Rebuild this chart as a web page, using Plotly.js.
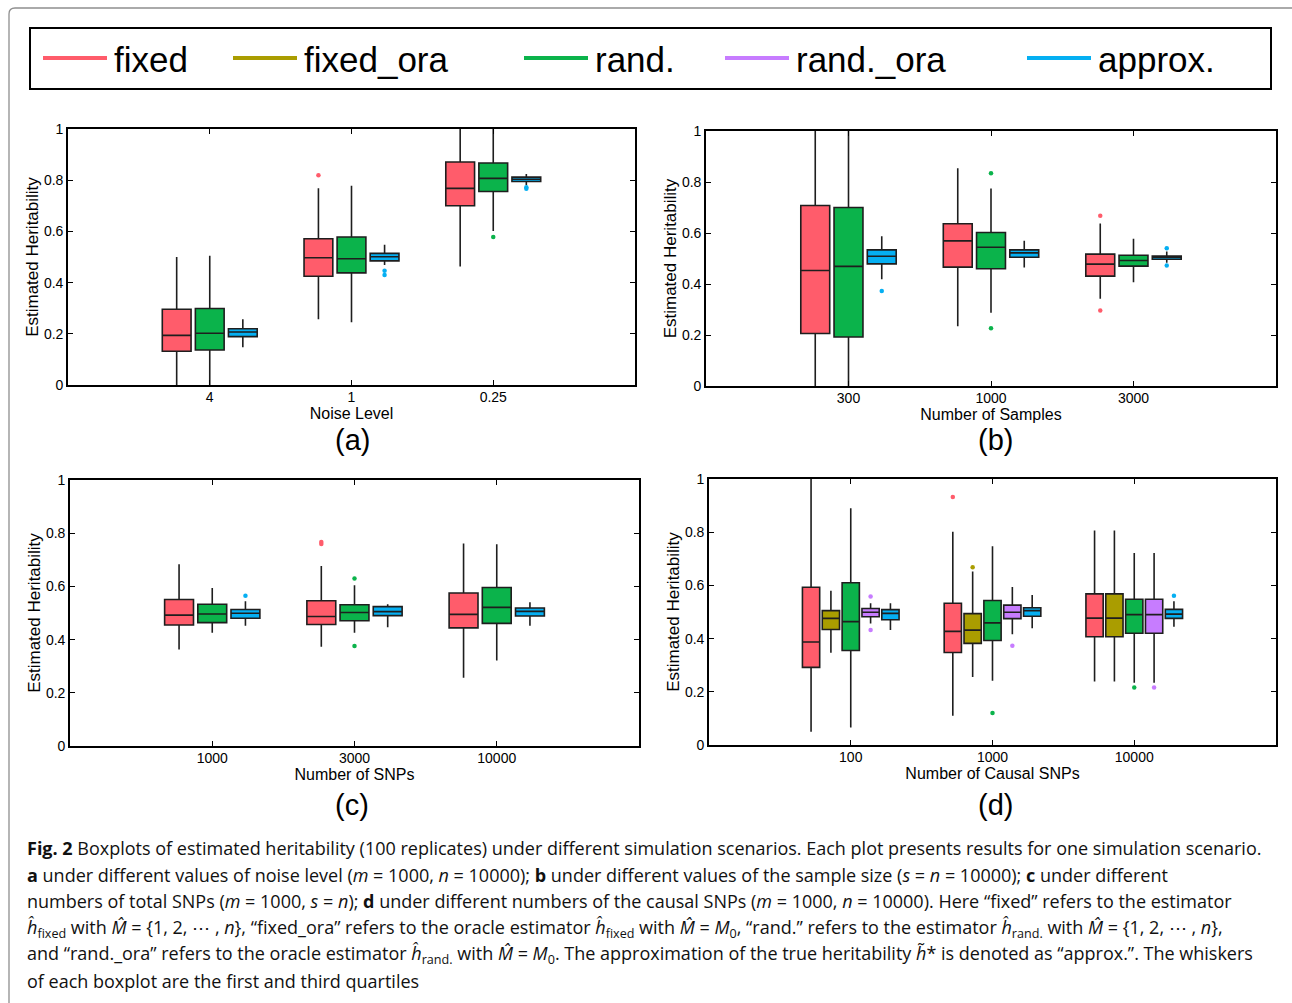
<!DOCTYPE html>
<html><head><meta charset="utf-8">
<script src="https://cdn.plot.ly/plotly-3.0.1.min.js"></script>
<style>html,body{margin:0;padding:0;background:#fff}</style>
</head><body><div id="chart" style="width:1292px;height:1003px"></div>
<script>
// ---------------- data ----------------
const seriesNames = ['fixed', 'fixed_ora', 'rand.', 'rand._ora', 'approx.'];
const yTickVals = [0, 0.2, 0.4, 0.6, 0.8, 1];
const yTickText = ['0', '0.2', '0.4', '0.6', '0.8', '1'];
const yTitle = 'Estimated Heritability';

// each row (one per category): [lower whisker, Q1, median, Q3, upper whisker]
// (a) noise level
const catsA = ['4', '1', '0.25'];
const A_fixed  = [[0.000,0.132,0.194,0.296,0.500],[0.257,0.425,0.497,0.571,0.769],[0.463,0.700,0.768,0.871,1.000]];
const A_rand   = [[0.000,0.137,0.202,0.299,0.505],[0.245,0.438,0.493,0.578,0.778],[0.602,0.756,0.807,0.867,1.000]];
const A_approx = [[0.147,0.189,0.207,0.220,0.257],[0.469,0.485,0.501,0.514,0.548],[0.781,0.795,0.804,0.812,0.824]];
const A_fixed_out  = [[], [0.819], []];
const A_rand_out   = [[], [], [0.578]];
const A_approx_out = [[], [0.446, 0.430], [0.772, 0.767]];

// (b) number of samples
const catsB = ['300', '1000', '3000'];
const B_fixed  = [[0.000,0.206,0.453,0.708,1.000],[0.234,0.466,0.569,0.636,0.854],[0.342,0.431,0.478,0.517,0.637]];
const B_rand   = [[0.000,0.192,0.469,0.700,1.000],[0.287,0.460,0.544,0.602,0.775],[0.407,0.470,0.492,0.513,0.577]];
const B_approx = [[0.419,0.479,0.509,0.534,0.587],[0.465,0.505,0.522,0.534,0.570],[0.483,0.497,0.505,0.510,0.527]];
const B_fixed_out  = [[], [], [0.668, 0.296]];
const B_rand_out   = [[], [0.834, 0.226], []];
const B_approx_out = [[0.373], [], [0.540, 0.473]];

// (c) number of SNPs
const catsC = ['1000', '3000', '10000'];
const C_fixed  = [[0.363,0.455,0.492,0.551,0.683],[0.373,0.457,0.487,0.546,0.677],[0.257,0.444,0.495,0.575,0.761]];
const C_rand   = [[0.426,0.464,0.496,0.533,0.594],[0.426,0.471,0.502,0.531,0.604],[0.321,0.461,0.521,0.596,0.758]];
const C_approx = [[0.452,0.480,0.499,0.513,0.544],[0.446,0.490,0.505,0.524,0.533],[0.452,0.489,0.506,0.519,0.540]];
const C_fixed_out  = [[], [0.767, 0.759], []];
const C_rand_out   = [[], [0.630, 0.376], []];
const C_approx_out = [[0.565], [], []];

// (d) number of causal SNPs
const catsD = ['100', '1000', '10000'];
const D_fixed    = [[0.050,0.292,0.387,0.593,1.000],[0.110,0.348,0.427,0.533,0.802],[0.239,0.407,0.477,0.568,0.806]];
const D_fixedora = [[0.347,0.434,0.476,0.505,0.580],[0.256,0.382,0.432,0.494,0.652],[0.239,0.407,0.477,0.568,0.806]];
const D_rand     = [[0.066,0.355,0.464,0.610,0.890],[0.242,0.393,0.459,0.543,0.747],[0.234,0.420,0.490,0.548,0.722]];
const D_randora  = [[0.457,0.482,0.499,0.513,0.533],[0.416,0.475,0.499,0.526,0.594],[0.234,0.420,0.490,0.548,0.722]];
const D_approx   = [[0.432,0.471,0.495,0.509,0.533],[0.439,0.484,0.505,0.516,0.564],[0.445,0.476,0.492,0.510,0.540]];
const D_fixed_out    = [[], [0.932], []];
const D_fixedora_out = [[], [0.668], []];
const D_rand_out     = [[], [0.120], [0.216]];
const D_randora_out  = [[0.558, 0.432], [0.373], [0.216]];
const D_approx_out   = [[], [], [0.561]];

const captionLines = [
  '<b>Fig. 2</b> Boxplots of estimated heritability (100 replicates) under different simulation scenarios. Each plot presents results for one simulation scenario.',
  '<b>a</b> under different values of noise level (<i>m</i> = 1000, <i>n</i> = 10000); <b>b</b> under different values of the sample size (<i>s</i> = <i>n</i> = 10000); <b>c</b> under different',
  'numbers of total SNPs (<i>m</i> = 1000, <i>s</i> = <i>n</i>); <b>d</b> under different numbers of the causal SNPs (<i>m</i> = 1000, <i>n</i> = 10000). Here \u201cfixed\u201d refers to the estimator',
  '<i>\u0125</i><sub>fixed</sub> with <i>M\u0302</i> = {1, 2, \u22EF , <i>n</i>}, \u201cfixed_ora\u201d refers to the oracle estimator <i>\u0125</i><sub>fixed</sub> with <i>M\u0302</i> = <i>M</i><sub>0</sub>, \u201crand.\u201d refers to the estimator <i>\u0125</i><sub>rand.</sub> with <i>M\u0302</i> = {1, 2, \u22EF , <i>n</i>},',
  'and \u201crand._ora\u201d refers to the oracle estimator <i>\u0125</i><sub>rand.</sub> with <i>M\u0302</i> = <i>M</i><sub>0</sub>. The approximation of the true heritability <i>h\u0303</i>* is denoted as \u201capprox.\u201d. The whiskers',
  'of each boxplot are the first and third quartiles'
];

// ---------------- styles / layout ----------------
const W = 1292, H = 1003;
const seriesColors = ['#FF5C6B', '#AA9D00', '#0BB34B', '#C77CFF', '#05AFF2'];
const FONT = 'Liberation Sans, Arial, Helvetica, sans-serif';
const px = v => v / W;
const py = v => 1 - v / H;

const panels = [
  {cats: catsA, title: 'Noise Level', label: '(a)', xd: [68, 635], yd: [129, 385], lab: [352, 440],
   series: [[0, A_fixed, A_fixed_out], [2, A_rand, A_rand_out], [4, A_approx, A_approx_out]]},
  {cats: catsB, title: 'Number of Samples', label: '(b)', xd: [706, 1276], yd: [131, 386], lab: [995, 440],
   series: [[0, B_fixed, B_fixed_out], [2, B_rand, B_rand_out], [4, B_approx, B_approx_out]]},
  {cats: catsC, title: 'Number of SNPs', label: '(c)', xd: [70, 639], yd: [480, 746], lab: [352, 805],
   series: [[0, C_fixed, C_fixed_out], [2, C_rand, C_rand_out], [4, C_approx, C_approx_out]]},
  {cats: catsD, title: 'Number of Causal SNPs', label: '(d)', xd: [709, 1276], yd: [479, 745], lab: [995, 805],
   series: [[0, D_fixed, D_fixed_out], [1, D_fixedora, D_fixedora_out], [2, D_rand, D_rand_out],
            [3, D_randora, D_randora_out], [4, D_approx, D_approx_out]]}
];

const traces = [];
const layout = {
  width: W, height: H, margin: {l: 0, r: 0, t: 0, b: 0},
  paper_bgcolor: '#fff', plot_bgcolor: '#fff', showlegend: false, boxmode: 'overlay',
  font: {family: FONT, color: '#000', size: 14},
  shapes: [], annotations: []
};

panels.forEach((p, pi) => {
  const sfx = pi === 0 ? '' : String(pi + 1);
  const xa = 'x' + sfx, ya = 'y' + sfx;
  const n = p.series.length;
  const slot = 0.7 / n, bw = slot * 0.87;
  p.series.forEach((s, k) => {
    const [si, stats, outs] = s;
    const off = (k - (n - 1) / 2) * slot;
    const xs = p.cats.map((c, i) => i + 1 + off);
    traces.push({
      type: 'box', orientation: 'v', xaxis: xa, yaxis: ya, name: seriesNames[si],
      x: xs,
      lowerfence: stats.map(r => r[0]), q1: stats.map(r => r[1]), median: stats.map(r => r[2]),
      q3: stats.map(r => r[3]), upperfence: stats.map(r => r[4]),
      width: bw, whiskerwidth: 0, boxpoints: false,
      fillcolor: seriesColors[si], line: {color: '#1e1e1e', width: 1.6},
      hoverinfo: 'y', showlegend: false
    });
    const ox = [], oy = [];
    outs.forEach((vals, i) => vals.forEach(v => { ox.push(i + 1 + off); oy.push(v); }));
    if (ox.length) traces.push({
      type: 'scatter', mode: 'markers', xaxis: xa, yaxis: ya, name: seriesNames[si] + ' outliers',
      x: ox, y: oy, marker: {color: seriesColors[si], size: 4.5}, showlegend: false, hoverinfo: 'y'
    });
  });
  const axCommon = {
    ticks: 'inside', ticklen: 5, tickwidth: 1, tickcolor: '#000',
    showline: true, linecolor: '#000', linewidth: 1.8, mirror: 'ticks',
    showgrid: false, zeroline: false, fixedrange: true,
    tickfont: {family: FONT, size: 14, color: '#000'}
  };
  layout['xaxis' + sfx] = Object.assign({}, axCommon, {
    domain: [px(p.xd[0]), px(p.xd[1])], anchor: ya, range: [0, 4],
    tickmode: 'array', tickvals: p.cats.map((c, i) => i + 1), ticktext: p.cats,
    ticklabelstandoff: -2,
    title: {text: p.title, font: {family: FONT, size: 16, color: '#000'}, standoff: 3}
  });
  layout['yaxis' + sfx] = Object.assign({}, axCommon, {
    domain: [py(p.yd[1]), py(p.yd[0])], anchor: xa, range: [0, 1],
    tickmode: 'array', tickvals: yTickVals, ticktext: yTickText,
    title: {text: yTitle, font: {family: FONT, size: 17, color: '#000'}, standoff: 1}
  });
  layout.annotations.push({
    xref: 'paper', yref: 'paper', x: px(p.lab[0]), y: py(p.lab[1]), xanchor: 'center', yanchor: 'middle',
    text: p.label, showarrow: false, font: {family: FONT, size: 29, color: '#000'}
  });
});

// outer frame (top + left, rounded corner)
layout.shapes.push({
  type: 'path', xref: 'paper', yref: 'paper',
  path: `M ${px(9)} ${py(1003)} L ${px(9)} ${py(14)} Q ${px(9)} ${py(8)} ${px(15)} ${py(8)} L ${px(1292)} ${py(8)}`,
  line: {color: '#8f8f8f', width: 1.3}
});
// legend box
layout.shapes.push({
  type: 'rect', xref: 'paper', yref: 'paper', x0: px(30), x1: px(1271), y0: py(89), y1: py(28),
  line: {color: '#000', width: 2}, fillcolor: 'rgba(0,0,0,0)'
});
const legendStart = [43, 233, 524, 725, 1027];
seriesNames.forEach((nm, i) => {
  const x0 = legendStart[i];
  layout.shapes.push({
    type: 'line', xref: 'paper', yref: 'paper', x0: px(x0), x1: px(x0 + 64), y0: py(58), y1: py(58),
    line: {color: seriesColors[i], width: 4}
  });
  layout.annotations.push({
    xref: 'paper', yref: 'paper', x: px(x0 + 69), y: py(59), xanchor: 'left', yanchor: 'middle',
    text: nm, showarrow: false, font: {family: FONT, size: 35, color: '#000'}
  });
});
// caption
const capY = [848, 875, 901, 928, 954, 981];
captionLines.forEach((t, i) => {
  layout.annotations.push({
    xref: 'paper', yref: 'paper', x: px(25), y: py(capY[i]), xanchor: 'left', yanchor: 'middle',
    text: t, showarrow: false, align: 'left',
    font: {family: 'Open Sans, Noto Sans, sans-serif', size: 18, color: '#111'}
  });
});

Plotly.newPlot('chart', traces, layout, {displayModeBar: false, staticPlot: true});
</script>
</body></html>
